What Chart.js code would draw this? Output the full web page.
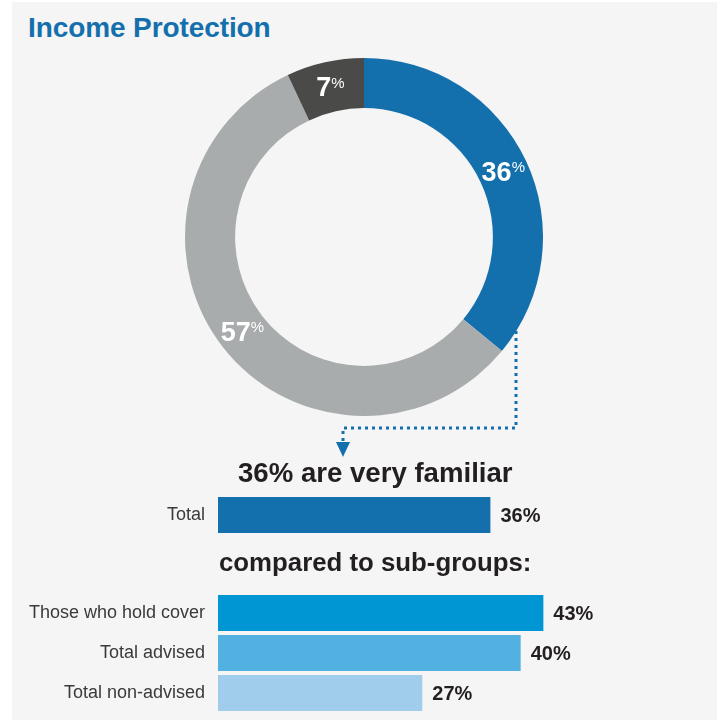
<!DOCTYPE html>
<html>
<head>
<meta charset="utf-8">
<script src="https://cdn.jsdelivr.net/npm/chart.js@4.4.1/dist/chart.umd.min.js"></script>
<style>
  html, body { margin: 0; padding: 0; background: #ffffff; }
  #page { position: relative; width: 721px; height: 720px; overflow: hidden; }
  #panel { position: absolute; left: 12px; top: 2px; width: 705px; height: 718px; background: #f5f5f5; }
  .txt { position: absolute; font-family: "Liberation Sans", Arial, sans-serif; font-weight: bold; white-space: nowrap; }
  #title { left: 28px; top: 12px; font-size: 28px; letter-spacing: -0.1px; color: #1470ad; }
  #head1 { left: 238px; top: 457px; font-size: 27.6px; color: #231f20; }
  #head2 { left: 219px; top: 548px; font-size: 25.8px; color: #231f20; }
  canvas { position: absolute; }
  #donut { left: 185px; top: 58px; }
  #barTotal { left: 0; top: 495px; }
  #barSub { left: 0; top: 593px; }
  #arrow { position: absolute; left: 0; top: 0; }
</style>
</head>
<body>
<div id="page">
  <div id="panel"></div>
  <div id="title" class="txt">Income Protection</div>
  <canvas id="donut" width="358" height="358"></canvas>
  <svg id="arrow" width="721" height="720">
    <polyline points="516,331 516,428 343,428 343,441" fill="none" stroke="#1470ad" stroke-width="3" stroke-dasharray="3 4"/>
    <polygon points="336,442 350,442 343,457" fill="#1470ad"/>
  </svg>
  <div id="head1" class="txt">36% are very familiar</div>
  <canvas id="barTotal" width="672" height="40"></canvas>
  <div id="head2" class="txt">compared to sub-groups:</div>
  <canvas id="barSub" width="672" height="120"></canvas>
</div>
<script>
// donut: familiarity with income protection
const donutLabels = ['Very familiar', 'Not very familiar', 'Other'];
const donutValues = [36, 57, 7];
const donutColors = ['#1470ad', '#a9acad', '#4a4b49'];

// bars
const totalLabels = ['Total'];
const totalValues = [36];
const totalColors = ['#1470ad'];

const subLabels = ['Those who hold cover', 'Total advised', 'Total non-advised'];
const subValues = [43, 40, 27];
const subColors = ['#0096d3', '#52b1e0', '#a0cdeb'];

const X_MAX = 60;
const LABEL_FONT = '"Liberation Sans", Arial, sans-serif';

// white percentage labels on the ring, small raised % sign
const ringLabels = {
    id: 'ringLabels',
    afterDatasetsDraw(chart) {
        const ctx = chart.ctx;
        const meta = chart.getDatasetMeta(0);
        meta.data.forEach((arc, i) => {
            const pos = arc.tooltipPosition();
            const num = String(chart.data.datasets[0].data[i]);
            ctx.save();
            ctx.fillStyle = '#ffffff';
            ctx.textBaseline = 'alphabetic';
            ctx.textAlign = 'left';
            ctx.font = 'bold 27px ' + LABEL_FONT;
            const wNum = ctx.measureText(num).width;
            ctx.font = '15px ' + LABEL_FONT;
            const wPct = ctx.measureText('%').width;
            const x0 = pos.x - (wNum + wPct) / 2;
            ctx.font = 'bold 27px ' + LABEL_FONT;
            ctx.fillText(num, x0, pos.y + 9.7);
            ctx.font = '15px ' + LABEL_FONT;
            ctx.fillText('%', x0 + wNum, pos.y + 1);
            ctx.restore();
        });
    }
};

new Chart(document.getElementById('donut'), {
    type: 'doughnut',
    data: {
        labels: donutLabels,
        datasets: [{
            data: donutValues,
            backgroundColor: donutColors,
            borderWidth: 0
        }]
    },
    options: {
        responsive: false,
        animation: false,
        cutout: '72%',
        layout: { padding: 0 },
        plugins: { legend: { display: false }, tooltip: { enabled: false } }
    },
    plugins: [ringLabels]
});

// value labels at the end of each bar
const barValueLabels = {
    id: 'barValueLabels',
    afterDatasetsDraw(chart) {
        const ctx = chart.ctx;
        const meta = chart.getDatasetMeta(0);
        ctx.save();
        ctx.fillStyle = '#231f20';
        ctx.font = 'bold 20px ' + LABEL_FONT;
        ctx.textAlign = 'left';
        ctx.textBaseline = 'middle';
        meta.data.forEach((bar, i) => {
            ctx.fillText(chart.data.datasets[0].data[i] + '%', bar.x + 10, bar.y + 1);
        });
        ctx.restore();
    }
};

function barChart(id, labels, values, colors) {
    return new Chart(document.getElementById(id), {
        type: 'bar',
        data: {
            labels: labels,
            datasets: [{
                data: values,
                backgroundColor: colors,
                borderWidth: 0,
                barPercentage: 0.9,
                categoryPercentage: 1.0
            }]
        },
        options: {
            indexAxis: 'y',
            responsive: false,
            animation: false,
            layout: { padding: 0 },
            plugins: { legend: { display: false }, tooltip: { enabled: false } },
            scales: {
                x: { display: false, min: 0, max: X_MAX },
                y: {
                    grid: { display: false, drawTicks: false },
                    border: { display: false },
                    ticks: {
                        padding: 13,
                        color: '#3a3a3a',
                        font: { family: LABEL_FONT, size: 18 }
                    },
                    afterFit(axis) {
                        axis.width = 218;
                        axis.paddingTop = 0;
                        axis.paddingBottom = 0;
                    }
                }
            }
        },
        plugins: [barValueLabels]
    });
}

barChart('barTotal', totalLabels, totalValues, totalColors);
barChart('barSub', subLabels, subValues, subColors);
</script>
</body>
</html>
